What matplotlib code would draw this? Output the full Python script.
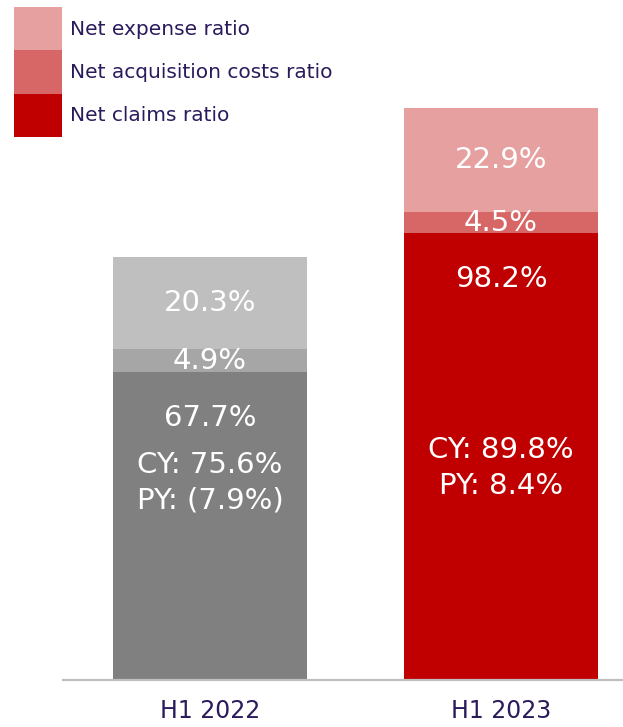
import matplotlib
matplotlib.use("Agg")
import matplotlib.pyplot as plt
from matplotlib.patches import Patch

categories = ["H1 2022", "H1 2023"]
claims = [67.7, 98.2]
acquisition = [4.9, 4.5]
expense = [20.3, 22.9]
cy_values = ["CY: 75.6%", "CY: 89.8%"]
py_values = ["PY: (7.9%)", "PY: 8.4%"]
cy_pos = [47.2, 50.5]
py_pos = [39.5, 42.6]
series_names = ["Net expense ratio", "Net acquisition costs ratio", "Net claims ratio"]

gray_colors = ["#808080", "#A6A6A6", "#BFBFBF"]
red_colors = ["#C00000", "#D76767", "#E6A0A0"]
text_navy = "#2B1B5C"

W, H = 623, 727
fig = plt.figure(figsize=(W / 100, H / 100), dpi=100)
plt.rcParams['font.family'] = ['DejaVu Sans']

# axes geometry in pixels
ax_left, ax_right = 63, 623
ax_bottom_px = 680
ppu = 4.554
ylim_top = 140
ax_top_px = ax_bottom_px - ylim_top * ppu
ax = fig.add_axes([ax_left / W, (H - ax_bottom_px) / H,
                   (ax_right - ax_left) / W, (ax_bottom_px - ax_top_px) / H])
ax.set_ylim(0, ylim_top)
ax.set_xlim(-0.505, 1.419)

x = [0, 1]
width = 0.667
for i in x:
    cols = gray_colors if i == 0 else red_colors
    ax.bar(i, claims[i], width, color=cols[0], linewidth=0)
    ax.bar(i, acquisition[i], width, bottom=claims[i], color=cols[1], linewidth=0)
    ax.bar(i, expense[i], width, bottom=claims[i] + acquisition[i], color=cols[2], linewidth=0)

fs = 21
for i in x:
    ax.text(i, claims[i] + acquisition[i] + expense[i] / 2, f"{expense[i]:.1f}%",
            ha="center", va="center", color="white", fontsize=fs)
    ax.text(i, claims[i] + acquisition[i] / 2, f"{acquisition[i]:.1f}%",
            ha="center", va="center", color="white", fontsize=fs)
    ax.annotate(f"{claims[i]:.1f}%", xy=(i, claims[i]), xytext=(0, -33),
                textcoords="offset points", ha="center", va="center",
                color="white", fontsize=fs)
    ax.text(i, cy_pos[i], cy_values[i], ha="center", va="center", color="white", fontsize=fs)
    ax.text(i, py_pos[i], py_values[i], ha="center", va="center", color="white", fontsize=fs)

for s in ["top", "right", "left"]:
    ax.spines[s].set_visible(False)
ax.spines["bottom"].set_color("#BFBFBF")
ax.spines["bottom"].set_linewidth(1.6)
ax.set_yticks([])
ax.set_xticks(x)
ax.set_xticklabels(categories, fontsize=17, color=text_navy)
ax.tick_params(axis="x", length=0, pad=14)

handles = [Patch(color=red_colors[2], linewidth=0),
           Patch(color=red_colors[1], linewidth=0),
           Patch(color=red_colors[0], linewidth=0)]
lfs = 14.5
lpx = lfs * 100 / 72
leg = fig.legend(handles, series_names, loc="upper left",
                 bbox_to_anchor=(14 / W, 1 - 7 / H), bbox_transform=fig.transFigure,
                 frameon=False, fontsize=lfs, labelcolor=text_navy,
                 handlelength=48 / lpx, handleheight=43.5 / lpx * 1.36, labelspacing=0,
                 handletextpad=8 / lpx, borderpad=0, borderaxespad=0)

fig.savefig("out.png", dpi=100)
